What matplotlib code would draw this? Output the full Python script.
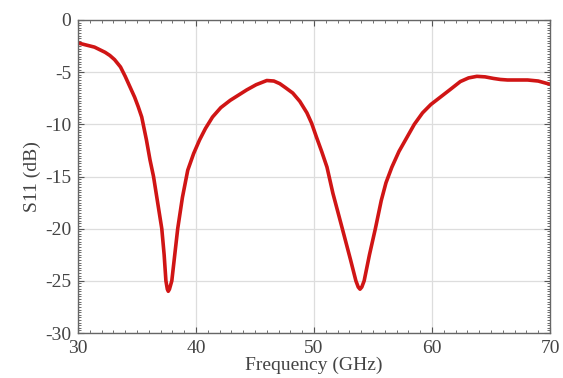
import matplotlib
matplotlib.use("Agg")
import matplotlib.pyplot as plt
from matplotlib.ticker import MultipleLocator

# S11
freq_ghz = [30.0, 30.7, 31.4, 32.3, 32.7, 33.1, 33.6, 34.0, 34.4, 34.8,
            35.1, 35.4, 35.8, 36.1, 36.4, 36.75, 37.1, 37.3, 37.45, 37.57,
            37.65, 37.75, 37.95, 38.2, 38.45, 38.85, 39.3, 39.8, 40.3, 40.8,
            41.4, 42.1, 42.9, 43.6, 44.3, 45.1, 46.0, 46.6, 47.1, 47.6,
            48.2, 48.8, 49.4, 49.8, 50.2, 50.65, 51.1, 51.6, 52.0, 52.4,
            52.75, 53.1, 53.55, 53.75, 53.9, 54.05, 54.25, 54.7, 55.2, 55.7,
            56.1, 56.6, 57.2, 57.9, 58.5, 59.2, 59.9, 60.7, 61.5, 62.4,
            63.1, 63.8, 64.5, 65.2, 65.8, 66.4, 67.2, 68.1, 69.0, 69.8, 70.0]
s11_db = [-2.2, -2.4, -2.6, -3.1, -3.4, -3.8, -4.5, -5.4, -6.4, -7.4,
          -8.3, -9.3, -11.5, -13.4, -15.0, -17.5, -20.0, -22.5, -25.0, -25.8,
          -26.0, -25.8, -25.0, -22.5, -20.0, -17.0, -14.4, -12.8, -11.5, -10.4,
          -9.3, -8.4, -7.7, -7.2, -6.7, -6.2, -5.8, -5.85, -6.1, -6.5,
          -7.0, -7.8, -8.9, -9.9, -11.2, -12.6, -14.1, -16.6, -18.3, -20.0,
          -21.5, -23.0, -25.0, -25.6, -25.8, -25.6, -25.0, -22.5, -20.0, -17.3,
          -15.6, -14.1, -12.6, -11.2, -10.0, -8.9, -8.1, -7.4, -6.7, -5.9,
          -5.55, -5.4, -5.45, -5.6, -5.7, -5.75, -5.75, -5.75, -5.85, -6.1, -6.15]

x_ticks = [30, 40, 50, 60, 70]
y_ticks = [0, -5, -10, -15, -20, -25, -30]

plt.rcParams["font.family"] = ["Liberation Serif", "DejaVu Serif"]
plt.rcParams["axes.unicode_minus"] = False

fig = plt.figure(figsize=(5.63, 3.78), dpi=100)
ax = fig.add_axes([78 / 563, 45 / 378, 472 / 563, 313 / 378])

ax.plot(freq_ghz, s11_db, color="#d01515", lw=2.6,
        solid_joinstyle="round", solid_capstyle="round")

ax.set_xlim(30, 70)
ax.set_ylim(-30, 0)
ax.set_xticks(x_ticks)
ax.set_yticks(y_ticks)
ax.xaxis.set_minor_locator(MultipleLocator(1))
ax.yaxis.set_minor_locator(MultipleLocator(0.25))
ax.grid(True, which="major", color="#dddddd", lw=0.9)
ax.set_axisbelow(True)

for s in ax.spines.values():
    s.set_color("#666666")
    s.set_linewidth(1.0)
ax.tick_params(which="both", direction="in", top=True, right=True,
               colors="#555555", labelcolor="#444444", labelsize=14)
ax.tick_params(which="major", length=4, pad=5)
ax.tick_params(which="minor", length=2.5)

ax.set_xlabel("Frequency (GHz)", fontsize=14, color="#444444", labelpad=0)
ax.set_ylabel("S11 (dB)", fontsize=14, color="#444444", labelpad=3)

fig.savefig("out.png", dpi=100)
